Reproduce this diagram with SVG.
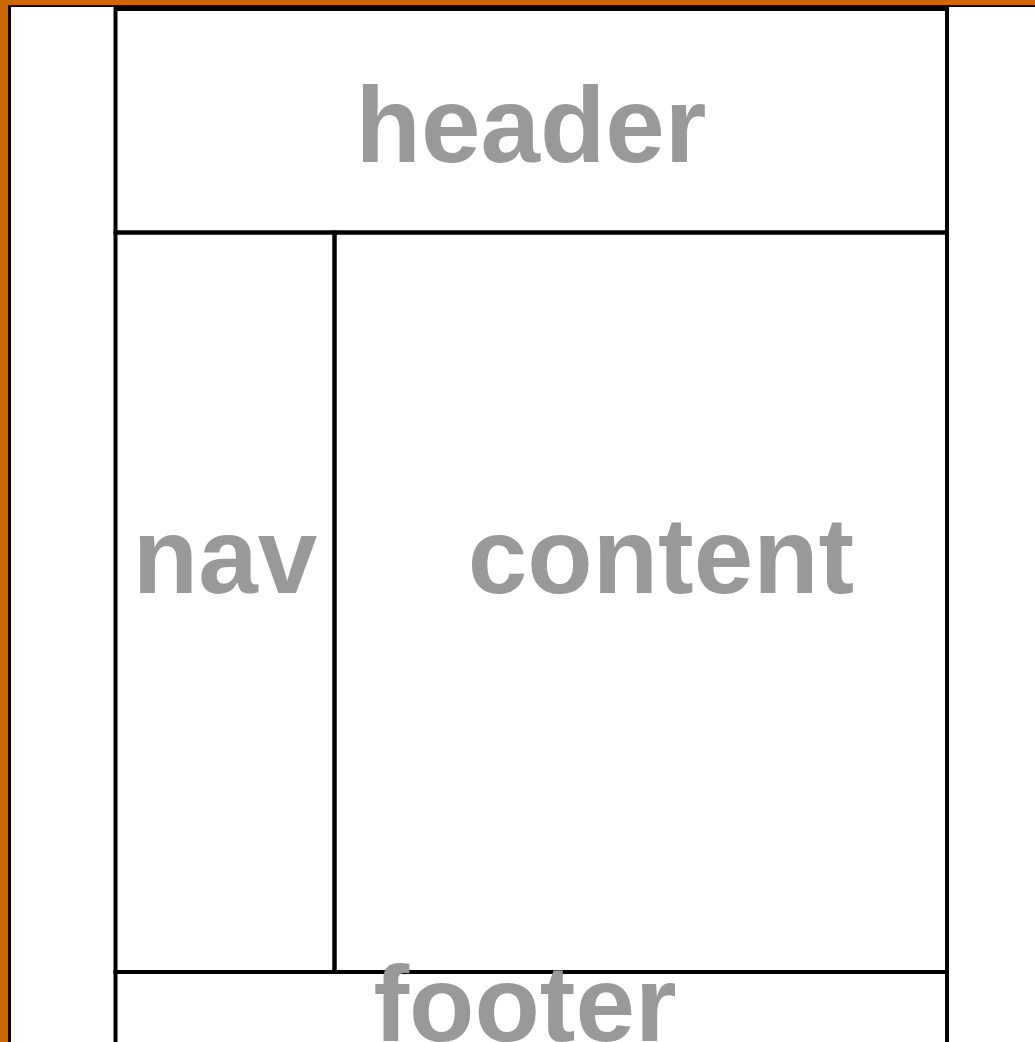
<svg xmlns="http://www.w3.org/2000/svg" width="1035" height="1042" viewBox="0 0 1035 1042">
<style>
.frame{fill:none;stroke:#000;stroke-width:4}
.lbl{font-family:"Liberation Sans",Arial,sans-serif;font-weight:bold;font-size:107px;fill:#999999;text-anchor:middle}
</style>
<rect x="0" y="0" width="1035" height="1042" fill="#CC6600"/>
<rect x="8" y="5" width="1027" height="1037" fill="#000"/>
<rect x="11" y="7" width="1024" height="1035" fill="#fff"/>
<g id="header">
<rect class="frame" x="115.5" y="9" width="831.5" height="223.5"/>
<text class="lbl" x="531" y="162">header</text>
</g>
<g id="nav">
<rect class="frame" x="115.5" y="232.5" width="219" height="739.5"/>
<text class="lbl" x="225" y="593">nav</text>
</g>
<g id="content">
<rect class="frame" x="334.5" y="232.5" width="612.5" height="739.5"/>
<text class="lbl" x="661" y="593">content</text>
</g>
<g id="footer">
<rect class="frame" x="115.5" y="972" width="831.5" height="100"/>
<text class="lbl" x="525" y="1041">footer</text>
</g>
<g id="connectors"/>
</svg>
